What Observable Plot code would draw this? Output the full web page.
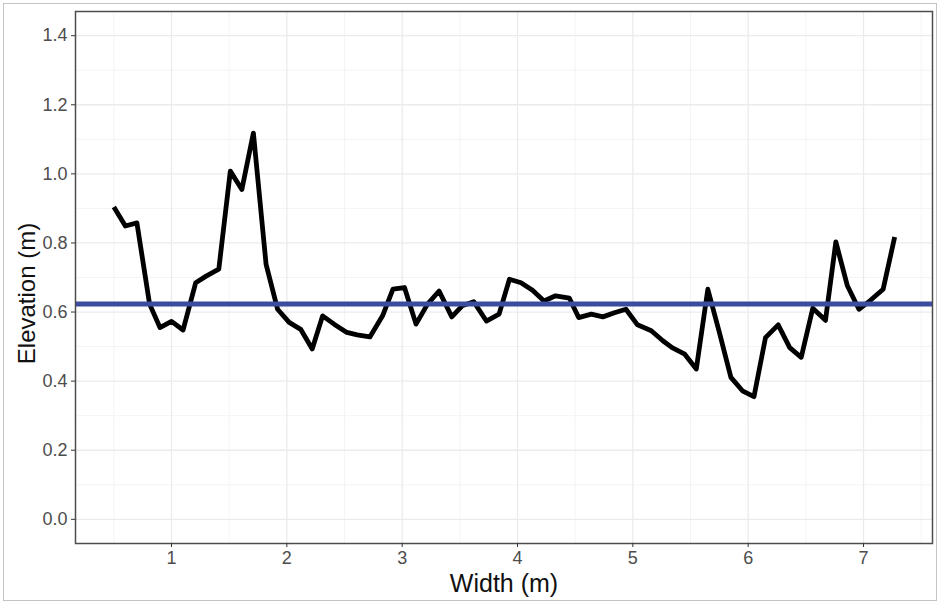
<!DOCTYPE html>
<html>
<head>
<meta charset="utf-8">
<script src="https://cdn.jsdelivr.net/npm/d3@7"></script>
<script src="https://cdn.jsdelivr.net/npm/@observablehq/plot@0.6"></script>
<style>
  html, body { margin: 0; padding: 0; background: #fff; }
  #wrap { position: relative; width: 940px; height: 606px; }
  #border { position: absolute; left: 3px; top: 3px; width: 932px; height: 596px; border: 1px solid #c4c4c4; pointer-events: none; }
  svg { display: block; }
</style>
</head>
<body>
<div id="wrap"><div id="border"></div></div>
<script>
// Cross-section profile: width (m) vs elevation (m)
const widths = [0.50, 0.60, 0.70, 0.81, 0.90, 1.00, 1.10, 1.21, 1.30, 1.41,
  1.51, 1.61, 1.71, 1.82, 1.92, 2.02, 2.12, 2.22, 2.31, 2.41,
  2.52, 2.61, 2.72, 2.83, 2.92, 3.02, 3.12, 3.22, 3.32, 3.43,
  3.52, 3.62, 3.73, 3.84, 3.93, 4.03, 4.13, 4.23, 4.33, 4.45,
  4.53, 4.64, 4.74, 4.84, 4.94, 5.04, 5.16, 5.26, 5.34, 5.45,
  5.55, 5.65, 5.75, 5.85, 5.95, 6.05, 6.15, 6.26, 6.36, 6.46,
  6.56, 6.67, 6.76, 6.86, 6.96, 7.06, 7.17, 7.27];
const elevations = [0.904, 0.849, 0.858, 0.623, 0.555, 0.573, 0.548, 0.685, 0.704, 0.724,
  1.008, 0.955, 1.118, 0.738, 0.608, 0.570, 0.550, 0.493, 0.589, 0.565,
  0.541, 0.534, 0.528, 0.589, 0.666, 0.671, 0.565, 0.623, 0.661, 0.586,
  0.618, 0.630, 0.574, 0.594, 0.695, 0.685, 0.663, 0.632, 0.647, 0.640,
  0.584, 0.594, 0.586, 0.598, 0.608, 0.563, 0.546, 0.517, 0.497, 0.478,
  0.435, 0.666, 0.541, 0.411, 0.372, 0.355, 0.526, 0.563, 0.497, 0.469,
  0.611, 0.576, 0.803, 0.676, 0.608, 0.634, 0.666, 0.817];
const meanElevation = [0.623];
const xTicks = [1, 2, 3, 4, 5, 6, 7];
const yTicks = [0, 0.2, 0.4, 0.6, 0.8, 1.0, 1.2, 1.4];
const xMinor = [0.5, 1.5, 2.5, 3.5, 4.5, 5.5, 6.5, 7.5];
const yMinor = [0.1, 0.3, 0.5, 0.7, 0.9, 1.1, 1.3];
const xLabel = ["Width (m)"];
const yLabel = ["Elevation (m)"];

const profile = widths.map((w, i) => ({width: w, elevation: elevations[i]}));

const chart = Plot.plot({
  width: 940,
  height: 606,
  marginLeft: 75,
  marginRight: 8,
  marginTop: 11,
  marginBottom: 63,
  style: {fontFamily: "'Liberation Sans', Arial, sans-serif", background: "transparent"},
  x: {domain: [0.1676, 7.598]},
  y: {domain: [-0.07, 1.47]},
  marks: [
    Plot.ruleX(xMinor, {stroke: "#f4f4f4", strokeWidth: 1}),
    Plot.ruleY(yMinor, {stroke: "#f4f4f4", strokeWidth: 1}),
    Plot.ruleX(xTicks, {stroke: "#ebebeb", strokeWidth: 1.3}),
    Plot.ruleY(yTicks, {stroke: "#ebebeb", strokeWidth: 1.3}),
    Plot.line(profile, {x: "width", y: "elevation", stroke: "#000", strokeWidth: 4.8, strokeLinejoin: "round", strokeLinecap: "butt"}),
    Plot.ruleY(meanElevation, {stroke: "#3a4c9e", strokeWidth: 5}),
    Plot.frame({stroke: "#4d4d4d", strokeWidth: 1.5}),
    Plot.axisX(xTicks, {tickSize: 4, tickPadding: 4, fontSize: 18, color: "#4d4d4d", stroke: "#333", label: null, tickFormat: d => String(d)}),
    Plot.axisY(yTicks, {tickSize: 4, tickPadding: 4, fontSize: 18, color: "#4d4d4d", stroke: "#333", label: null, tickFormat: d3.format(".1f")}),
    Plot.text(xLabel, {frameAnchor: "bottom", dy: 40, fontSize: 25, fill: "#111", lineAnchor: "middle", textAnchor: "middle"}),
    Plot.text(yLabel, {frameAnchor: "left", dx: -48, dy: 16, rotate: -90, fontSize: 24, fill: "#111", lineAnchor: "middle", textAnchor: "middle"})
  ]
});
document.getElementById("wrap").prepend(chart);
</script>
</body>
</html>
